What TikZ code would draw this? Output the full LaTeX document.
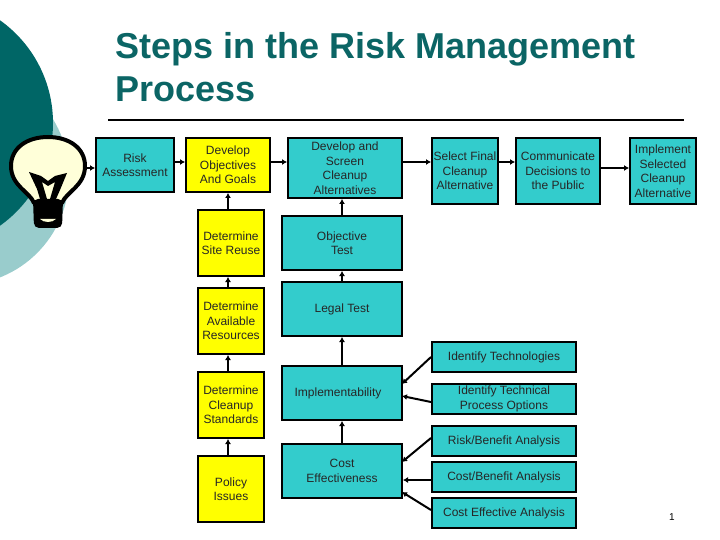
\documentclass[tikz,border=0pt]{standalone}
\usepackage{fontspec}
\setmainfont{Liberation Sans}
\usetikzlibrary{arrows.meta}
\definecolor{tealbox}{HTML}{33CCCC}
\definecolor{darkteal}{HTML}{006666}
\definecolor{lightteal}{HTML}{99CCCC}
\definecolor{bulbfill}{HTML}{FFFFD9}
\definecolor{titleteal}{HTML}{0B6565}
\definecolor{boxyellow}{RGB}{255,255,0}
\tikzset{
  x=1pt,y=-1pt,
  box/.style={draw=black,line width=2pt,inner sep=0pt,align=center,font=\fontsize{12}{14.5}\selectfont,text=black!85},
  tbox/.style={box,fill=tealbox},
  ybox/.style={box,fill=boxyellow},
  conn/.style={line width=2pt,draw=black,-{Latex[length=5pt,width=6pt]}},
  titletext/.style={font=\bfseries\fontsize{36}{43}\selectfont,text=titleteal,align=left,anchor=north west,inner sep=0pt}
}
\begin{document}
\begin{tikzpicture}
\useasboundingbox (0,0) rectangle (720,540);
\begin{scope}
  \clip (0,0) rectangle (720,540);
  \fill[lightteal] (-40,176) circle[radius=109];
  \fill[darkteal] (-73,123) circle[radius=126];
\end{scope}
% title
\node[titletext] (title) at (115,32) {Steps in the Risk Management\\Process};
\coordinate (ruleL) at (108,120);
\coordinate (ruleR) at (684,120);
\draw[line width=1.5pt] (ruleL) -- (ruleR);
% bulb
\draw[line width=4pt,fill=bulbfill,line join=round]
  (34,203) .. controls (30,192) and (11,186) .. (11,166)
  .. controls (11,148) and (27,137) .. (48,137)
  .. controls (69,137) and (85,148) .. (85,166)
  .. controls (85,186) and (66,192) .. (62,203) -- cycle;
\fill[black,rounded corners=5pt] (33,199) -- (63,199) -- (62,228) -- (34,228) -- cycle;
\fill[bulbfill] (40,219) .. controls (44,223) and (52,223) .. (56,219) -- cycle;
\fill[black] (29,172) -- (41,176) -- (48,181) -- (55,176) -- (67,173) -- (60,190) -- (56,199) -- (50,199) -- (55,182) -- (48,186) -- (42,182) -- (47,199) -- (40,199) -- (37,189) -- cycle;
% boxes
\node[tbox,minimum width=78pt,minimum height=54pt] (risk) at (135,165) {Risk\\Assessment};
\node[ybox,minimum width=84pt,minimum height=54pt] (dev) at (228,165) {Develop\\Objectives\\And Goals};
\node[ybox,minimum width=66pt,minimum height=66pt] (site) at (231,243) {Determine\\Site Reuse};
\node[ybox,minimum width=66pt,minimum height=66pt] (avail) at (231,321) {Determine\\Available\\Resources};
\node[ybox,minimum width=66pt,minimum height=66pt] (std) at (231,405) {Determine\\Cleanup\\Standards};
\node[ybox,minimum width=66pt,minimum height=66pt] (policy) at (231,489) {Policy\\Issues};
\node[tbox,minimum width=114pt,minimum height=60pt] (screen) at (345,168) {Develop and\\Screen\\Cleanup\\Alternatives};
\node[tbox,minimum width=120pt,minimum height=54pt] (obj) at (342,243) {Objective\\Test};
\node[tbox,minimum width=120pt,minimum height=54pt] (legal) at (342,309) {Legal Test};
\node[tbox,minimum width=120pt,minimum height=54pt] (impl) at (342,393) {\hspace*{-8pt}Implementability};
\node[tbox,minimum width=120pt,minimum height=54pt] (cost) at (342,471) {Cost\\Effectiveness};
\node[tbox,minimum width=66pt,minimum height=66pt] (select) at (465,171) {Select Final\\Cleanup\\Alternative};
\node[tbox,minimum width=84pt,minimum height=66pt] (comm) at (558,171) {Communicate\\Decisions to\\the Public};
\node[tbox,minimum width=66pt,minimum height=66pt] (selimpl) at (663,171) {Implement\\Selected\\Cleanup\\Alternative};
\node[tbox,minimum width=144pt,minimum height=30pt] (tech) at (504,357) {Identify Technologies};
\node[tbox,minimum width=144pt,minimum height=30pt] (proc) at (504,399) {Identify Technical\\Process Options};
\node[tbox,minimum width=144pt,minimum height=30pt] (rb) at (504,441) {Risk/Benefit Analysis};
\node[tbox,minimum width=144pt,minimum height=30pt] (cb) at (504,477) {Cost/Benefit Analysis};
\node[tbox,minimum width=144pt,minimum height=30pt] (ce) at (504,513) {Cost Effective Analysis};
\node[font=\fontsize{10}{12}\selectfont,inner sep=0pt] (pageno) at (672,517) {1};
% helper coordinates
\coordinate (rowa) at (0,162);
\coordinate (rowb) at (0,168);
\coordinate (colb) at (228,0);
\coordinate (colc) at (342,0);
\coordinate (bulbtip) at (86,168);
\coordinate (implA) at (402,384);
\coordinate (implB) at (402,396);
\coordinate (costA) at (402,462);
\coordinate (costB) at (402,492);
% connectors
\draw[conn] (bulbtip) -- (risk.west |- rowb);
\draw[conn] (risk.east |- rowa) -- (dev.west |- rowa);
\draw[conn] (dev.east |- rowa) -- (screen.west |- rowa);
\draw[conn] (screen.east |- rowa) -- (select.west |- rowa);
\draw[conn] (select.east |- rowa) -- (comm.west |- rowa);
\draw[conn] (comm.east |- rowb) -- (selimpl.west |- rowb);
\draw[conn] (colb |- site.north) -- (colb |- dev.south);
\draw[conn] (colb |- avail.north) -- (colb |- site.south);
\draw[conn] (colb |- std.north) -- (colb |- avail.south);
\draw[conn] (colb |- policy.north) -- (colb |- std.south);
\draw[conn] (colc |- obj.north) -- (colc |- screen.south);
\draw[conn] (legal.north) -- (obj.south);
\draw[conn] (impl.north) -- (legal.south);
\draw[conn] (cost.north) -- (impl.south);
\draw[conn] (tech.west) -- (implA);
\draw[conn] (proc.west |- 0,402) -- (implB);
\draw[conn] (rb.west |- 0,438) -- (costA);
\draw[conn] (cb.west |- 0,480) -- (impl.east |- 0,480);
\draw[conn] (ce.west |- 0,510) -- (costB);
\end{tikzpicture}
\end{document}
